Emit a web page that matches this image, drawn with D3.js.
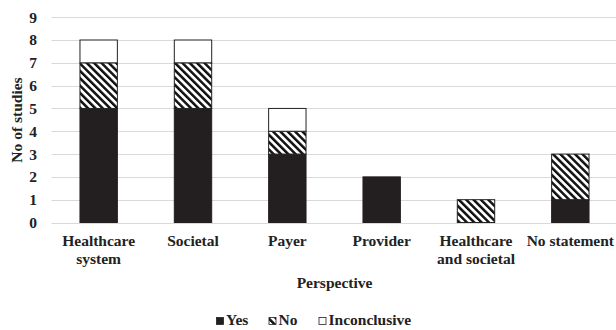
<!DOCTYPE html>
<html><head><meta charset="utf-8">
<script src="https://cdn.jsdelivr.net/npm/d3@7"></script>
<style>body{margin:0;background:#fff}svg{display:block}</style>
</head><body><svg id="c" width="616" height="330"></svg>
<script>
const categories = [["Healthcare","system"],["Societal"],["Payer"],["Provider"],["Healthcare","and societal"],["No statement"]];
const yesValues = [5,5,3,2,0,1];
const noValues = [2,2,1,0,1,2];
const inconclusiveValues = [1,1,1,0,0,0];
const seriesNames = ["Yes","No","Inconclusive"];
const yTicks = [0,1,2,3,4,5,6,7,8,9];

const FONT = "Liberation Serif";
const FS = 15.5;
const svg = d3.select("#c");
const defs = svg.append("defs");
const pat = defs.append("pattern").attr("id","hatch").attr("patternUnits","userSpaceOnUse")
  .attr("width",5.2).attr("height",10).attr("patternTransform","rotate(-45)");
pat.append("rect").attr("width",5.2).attr("height",10).attr("fill","#fff");
pat.append("rect").attr("x",0).attr("width",2.5).attr("height",10).attr("fill","#111");

const x = d3.scaleBand().domain(d3.range(categories.length)).range([51.5,617.5]).paddingInner(0.593).paddingOuter(0.2965);
const y = d3.scaleLinear().domain([0,9]).range([222.5,17.2]);

svg.append("g").selectAll("line").data(yTicks).join("line")
  .attr("x1",51.5).attr("x2",616).attr("y1",d=>Math.round(y(d))+0.5).attr("y2",d=>Math.round(y(d))+0.5)
  .attr("stroke","#d9d9d9").attr("stroke-width",1);

const yAxis = svg.append("g").attr("transform","translate(40,0)")
  .call(d3.axisLeft(y).tickValues(yTicks).tickSize(0).tickPadding(3).tickFormat(d3.format("d")));
yAxis.attr("font-family",FONT).attr("font-size",FS).attr("font-weight","bold");
yAxis.select(".domain").remove();
yAxis.selectAll("text").attr("fill","#222");

const data = categories.map((c,i)=>({i, Yes:yesValues[i], No:noValues[i], Inconclusive:inconclusiveValues[i]}));
const stacked = d3.stack().keys(seriesNames)(data);
const fills = {Yes:"#231f20", No:"url(#hatch)", Inconclusive:"#fff"};
stacked.forEach(s=>{
  svg.append("g").selectAll("rect").data(s.filter(d=>d[1]-d[0]>0)).join("rect")
    .attr("x",d=>x(d.data.i)+0.5).attr("width",x.bandwidth()-1)
    .attr("y",d=>y(d[1])).attr("height",d=>y(d[0])-y(d[1]))
    .attr("fill",fills[s.key]).attr("stroke",s.key==="Yes"?"#231f20":"#222").attr("stroke-width",1);
});

const txt = (g)=>g.append("text").attr("font-family",FONT).attr("font-weight","bold").attr("font-size",FS).attr("fill","#222");

categories.forEach((c,i)=>{
  const cx = x(i)+x.bandwidth()/2;
  const t = txt(svg).attr("text-anchor","middle").attr("x",cx).attr("y",246);
  c.forEach((line,j)=>t.append("tspan").attr("x",cx).attr("dy",j?17.5:0).text(line));
});

txt(svg).attr("text-anchor","middle").attr("x",334.5).attr("y",287.5).text("Perspective");
txt(svg).attr("text-anchor","middle").attr("transform","translate(22,120) rotate(-90)").text("No of studies");

const legX = [216, 268.5, 318.5];
seriesNames.forEach((n,i)=>{
  svg.append("rect").attr("x",legX[i]+0.5).attr("y",317.5).attr("width",7).attr("height",7)
    .attr("fill",fills[n]).attr("stroke","#222").attr("stroke-width",0.8);
  txt(svg).attr("x",legX[i]+10).attr("y",325).text(n);
});
</script></body></html>
